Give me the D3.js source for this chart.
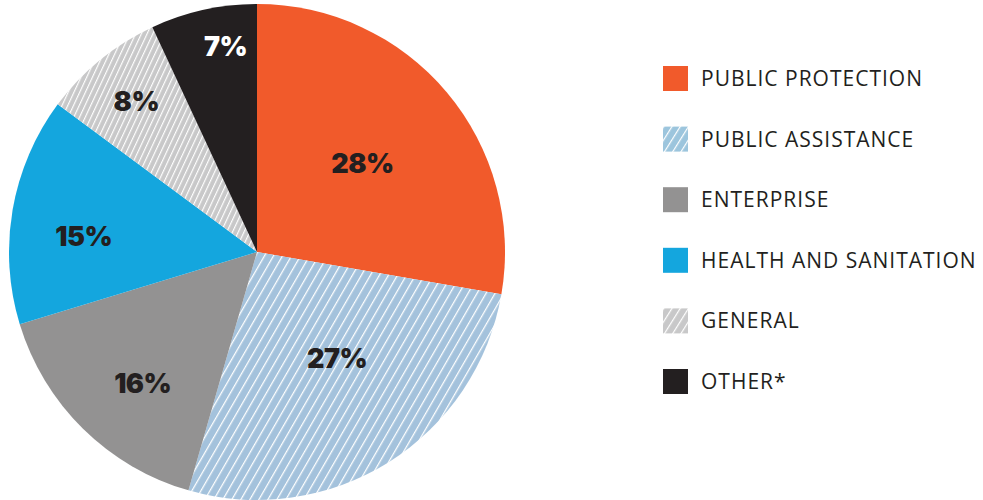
<!DOCTYPE html>
<html>
<head>
<meta charset="utf-8">
<script src="https://cdn.jsdelivr.net/npm/d3@7"></script>
<style>
  body { margin: 0; background: #fff; }
  svg { display: block; }
</style>
</head>
<body>
<div id="chart"></div>
<script>
// slice values (percent), clockwise from 12 o'clock
var categories = ['PUBLIC PROTECTION', 'PUBLIC ASSISTANCE', 'ENTERPRISE', 'HEALTH AND SANITATION', 'GENERAL', 'OTHER*'];
var shares = [28, 27, 16, 15, 8, 7];
var shareLabels = ['28%', '27%', '16%', '15%', '8%', '7%'];

(function(d3) {
  'use strict';

  var width = 983;
  var height = 500;
  var radius = 248;
  var cx = 257, cy = 252;

  var fills = ['#f15a2b', 'url(#stripe-blue)', '#939292', '#14a6de', 'url(#stripe-grey)', '#231f20'];
  var swatches = ['#f15a2b', 'url(#stripe-blue-sm)', '#939292', '#14a6de', 'url(#stripe-grey-sm)', '#231f20'];
  var labelColors = ['#231f20', '#231f20', '#231f20', '#231f20', '#231f20', '#ffffff'];
  // labels sit further out on the thin slices, nudged a little off the mid angle
  var labelRadius = [138, 133, 174, 174, 193, 208];
  var labelNudge = [0, -5, -3.5, -4.7, 0.5, 3.8];

  var svg = d3.select('#chart')
    .append('svg')
    .attr('width', width)
    .attr('height', height);

  var defs = svg.append('defs');

  function stripes(id, bg, size, angle, lw) {
    var p = defs.append('pattern')
      .attr('id', id)
      .attr('patternUnits', 'userSpaceOnUse')
      .attr('width', size)
      .attr('height', size)
      .attr('patternTransform', 'rotate(' + angle + ')');
    p.append('rect').attr('width', size).attr('height', size).attr('fill', bg);
    p.append('line')
      .attr('x1', 0.5).attr('y1', 0).attr('x2', 0.5).attr('y2', size)
      .attr('stroke', '#fff').attr('stroke-width', lw);
  }
  stripes('stripe-blue', '#a4c2dc', 7.8, 30, 1.5);
  stripes('stripe-grey', '#c8c8c9', 5.2, 25, 1.3);
  stripes('stripe-blue-sm', '#9cc5dd', 7, 32, 1.4);
  stripes('stripe-grey-sm', '#c8c8c9', 7, 32, 1.4);

  var pie = d3.pie()
    .value(function(d) { return d; })
    .sort(null);

  var arc = d3.arc()
    .innerRadius(0)
    .outerRadius(radius);

  var g = svg.append('g')
    .attr('transform', 'translate(' + cx + ',' + cy + ')');

  var slices = pie(shares);

  g.selectAll('path')
    .data(slices)
    .enter()
    .append('path')
    .attr('d', arc)
    .attr('fill', function(d, i) { return fills[i]; });

  g.selectAll('text')
    .data(slices)
    .enter()
    .append('text')
    .attr('transform', function(d, i) {
      var a = (d.startAngle + d.endAngle) / 2 + labelNudge[i] * Math.PI / 180;
      var r = labelRadius[i];
      return 'translate(' + (Math.sin(a) * r) + ',' + (-Math.cos(a) * r) + ')';
    })
    .attr('text-anchor', 'middle')
    .attr('dy', '0.36em')
    .attr('font-family', 'Inter, "Open Sans", sans-serif')
    .attr('font-weight', 900)
    .attr('font-size', 27)
    .attr('letter-spacing', -0.5)
    .attr('fill', function(d, i) { return labelColors[i]; })
    .text(function(d, i) { return shareLabels[i]; });

  // legend
  var legend = svg.append('g')
    .attr('transform', 'translate(663,66)');

  var rows = legend.selectAll('g')
    .data(categories)
    .enter()
    .append('g')
    .attr('transform', function(d, i) { return 'translate(0,' + (i * 60.6) + ')'; });

  rows.append('rect')
    .attr('width', 25)
    .attr('height', 25)
    .attr('fill', function(d, i) { return swatches[i]; });

  rows.append('text')
    .attr('x', 38)
    .attr('y', 12.5)
    .attr('dy', '0.36em')
    .attr('font-family', '"Open Sans", sans-serif')
    .attr('font-size', 21)
    .attr('letter-spacing', 1.0)
    .attr('fill', '#231f20')
    .text(function(d) { return d; });

})(window.d3);
</script>
</body>
</html>
